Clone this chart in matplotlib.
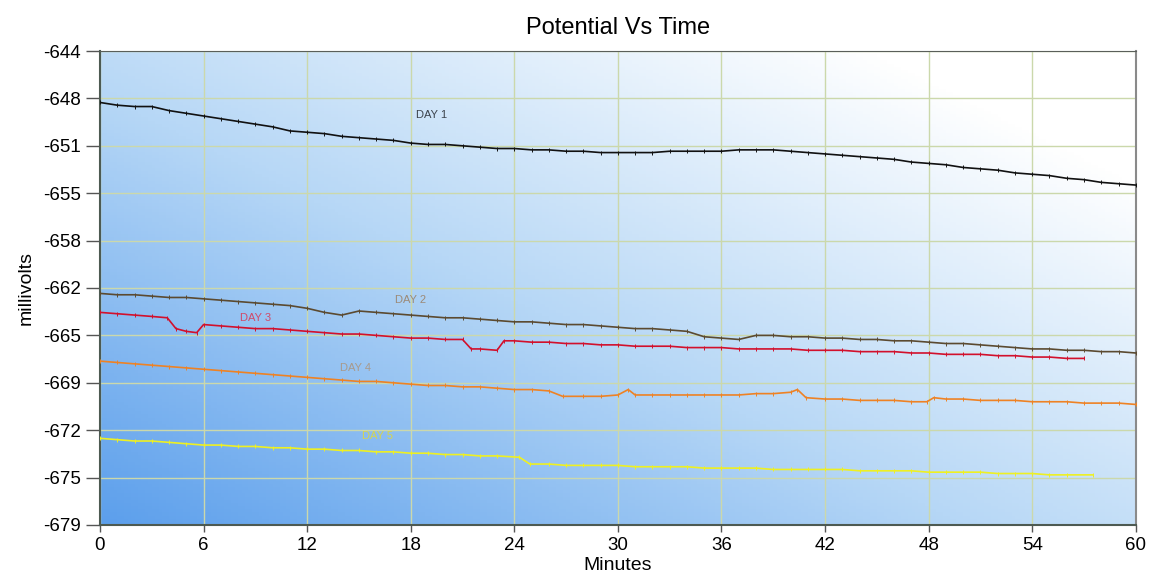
import matplotlib

matplotlib.use("Agg")
import matplotlib.pyplot as plt
import numpy as np
from matplotlib.colors import LinearSegmentedColormap

plt.rcParams["font.family"] = ["Liberation Sans", "DejaVu Sans"]

# minutes / millivolts
DAY1_T = list(range(0, 61))
DAY1_MV = [
    -647.8, -648.0, -648.1, -648.1, -648.4, -648.6, -648.8, -649.0, -649.2, -649.4,
    -649.6, -649.9, -650.0, -650.1, -650.3, -650.4, -650.5, -650.6, -650.8, -650.9,
    -650.9, -651.0, -651.1, -651.2, -651.2, -651.3, -651.3, -651.4, -651.4, -651.5,
    -651.5, -651.5, -651.5, -651.4, -651.4, -651.4, -651.4, -651.3, -651.3, -651.3,
    -651.4, -651.5, -651.6, -651.7, -651.8, -651.9, -652.0, -652.2, -652.3, -652.4,
    -652.6, -652.7, -652.8, -653.0, -653.1, -653.2, -653.4, -653.5, -653.7, -653.8,
    -653.9,
]

DAY2_T = list(range(0, 61))
DAY2_MV = [
    -661.9, -662.0, -662.0, -662.1, -662.2, -662.2, -662.3, -662.4, -662.5, -662.6,
    -662.7, -662.8, -663.0, -663.3, -663.5, -663.2, -663.3, -663.4, -663.5, -663.6,
    -663.7, -663.7, -663.8, -663.9, -664.0, -664.0, -664.1, -664.2, -664.2, -664.3,
    -664.4, -664.5, -664.5, -664.6, -664.7, -665.1, -665.2, -665.3, -665.0, -665.0,
    -665.1, -665.1, -665.2, -665.2, -665.3, -665.3, -665.4, -665.4, -665.5, -665.6,
    -665.6, -665.7, -665.8, -665.9, -666.0, -666.0, -666.1, -666.1, -666.2, -666.2,
    -666.3,
]

DAY3_T = [
    0, 1, 2, 3, 3.9, 4.4, 5, 5.6, 6.0, 7, 8, 9, 10, 11, 12, 13, 14, 15, 16, 17,
    18, 19, 20, 21, 21.5, 22, 23, 23.4, 24, 25, 26, 27, 28, 29, 30, 31, 32, 33,
    34, 35, 36, 37, 38, 39, 40, 41, 42, 43, 44, 45, 46, 47, 48, 49, 50, 51, 52,
    53, 54, 55, 56, 57,
]
DAY3_MV = [
    -663.3, -663.4, -663.5, -663.6, -663.7, -664.5, -664.7, -664.8, -664.2, -664.3,
    -664.4, -664.5, -664.5, -664.6, -664.7, -664.8, -664.9, -664.9, -665.0, -665.1,
    -665.2, -665.2, -665.3, -665.3, -666.0, -666.0, -666.1, -665.4, -665.4, -665.5,
    -665.5, -665.6, -665.6, -665.7, -665.7, -665.8, -665.8, -665.8, -665.9, -665.9,
    -665.9, -666.0, -666.0, -666.0, -666.0, -666.1, -666.1, -666.1, -666.2, -666.2,
    -666.2, -666.3, -666.3, -666.4, -666.4, -666.4, -666.5, -666.5, -666.6, -666.6,
    -666.7, -666.7,
]

DAY4_T = [
    0, 1, 2, 3, 4, 5, 6, 7, 8, 9, 10, 11, 12, 13, 14, 15, 16, 17, 18, 19, 20,
    21, 22, 23, 24, 25, 26, 26.8, 28, 29, 30, 30.6, 31, 32, 33, 34, 35, 36, 37,
    38, 39, 40, 40.4, 40.9, 42, 43, 44, 45, 46, 47, 47.9, 48.3, 49, 50, 51, 52,
    53, 54, 55, 56, 57, 58, 59, 60,
]
DAY4_MV = [
    -666.9, -667.0, -667.1, -667.2, -667.3, -667.4, -667.5, -667.6, -667.7, -667.8,
    -667.9, -668.0, -668.1, -668.2, -668.3, -668.4, -668.4, -668.5, -668.6, -668.7,
    -668.7, -668.8, -668.8, -668.9, -669.0, -669.0, -669.1, -669.5, -669.5, -669.5,
    -669.4, -669.0, -669.4, -669.4, -669.4, -669.4, -669.4, -669.4, -669.4, -669.3,
    -669.3, -669.2, -669.0, -669.6, -669.7, -669.7, -669.8, -669.8, -669.8, -669.9,
    -669.9, -669.6, -669.7, -669.7, -669.8, -669.8, -669.8, -669.9, -669.9, -669.9,
    -670.0, -670.0, -670.0, -670.1,
]

DAY5_T = [
    0, 1, 2, 3, 4, 5, 6, 7, 8, 9, 10, 11, 12, 13, 14, 15, 16, 17, 18, 19, 20,
    21, 22, 23, 24.3, 24.9, 26, 27, 28, 29, 30, 31, 32, 33, 34, 35, 36, 37, 38,
    39, 40, 41, 42, 43, 44, 45, 46, 47, 48, 49, 50, 51, 52, 53, 54, 55, 56, 57.5,
]
DAY5_MV = [
    -672.6, -672.7, -672.8, -672.8, -672.9, -673.0, -673.1, -673.1, -673.2, -673.2,
    -673.3, -673.3, -673.4, -673.4, -673.5, -673.5, -673.6, -673.6, -673.7, -673.7,
    -673.8, -673.8, -673.9, -673.9, -674.0, -674.5, -674.5, -674.6, -674.6, -674.6,
    -674.6, -674.7, -674.7, -674.7, -674.7, -674.8, -674.8, -674.8, -674.8, -674.9,
    -674.9, -674.9, -674.9, -674.9, -675.0, -675.0, -675.0, -675.0, -675.1, -675.1,
    -675.1, -675.1, -675.2, -675.2, -675.2, -675.3, -675.3, -675.3,
]

X_TICKS = [0, 6, 12, 18, 24, 30, 36, 42, 48, 54, 60]
Y_TICK_LABELS = ["-679", "-675", "-672", "-669", "-665", "-662",
                 "-658", "-655", "-651", "-648", "-644"]

# series: (times, values, line colour, label text, label x, label y, label colour)
SERIES = [
    (DAY1_T, DAY1_MV, "#111111", "DAY 1", 19.2, -648.7, "#3c434c"),
    (DAY2_T, DAY2_MV, "#5b4a30", "DAY 2", 18.0, -662.4, "#9c8a78"),
    (DAY3_T, DAY3_MV, "#d2102c", "DAY 3", 9.0, -663.7, "#d04a6a"),
    (DAY4_T, DAY4_MV, "#ee8224", "DAY 4", 14.8, -667.4, "#a89a8c"),
    (DAY5_T, DAY5_MV, "#eef022", "DAY 5", 16.1, -672.4, "#d6d450"),
]


def main() -> None:
    fig = plt.figure(figsize=(11.56, 5.79), dpi=100)
    ax = fig.add_axes([0.0865, 0.0933, 0.896, 0.8186])

    # diagonal blue-to-white backdrop
    gx, gy = np.meshgrid(np.linspace(0, 1, 300), np.linspace(0, 1, 150))
    shade = np.clip(0.6 * gx + 0.55 * gy, 0, 1)
    cmap = LinearSegmentedColormap.from_list("bg", ["#5c9fec", "#b6d7f6", "#ffffff"])
    ax.imshow(shade, extent=[0, 60, -679, -644], origin="lower", aspect="auto",
              cmap=cmap, vmin=0, vmax=1, zorder=0)

    for times, values, color, label, lx, ly, lcolor in SERIES:
        ax.plot(times, values, color=color, linewidth=1.2, zorder=3)
        ax.plot(times, values, color=color, linestyle="none", marker="|",
                markersize=3.5, markeredgewidth=0.7, zorder=3)
        ax.text(lx, ly, label, color=lcolor, fontsize=8, ha="center",
                va="center", zorder=4)

    ax.set_xlim(0, 60)
    ax.set_ylim(-679, -644)
    ax.set_xticks(X_TICKS)
    ax.set_yticks(np.linspace(-679, -644, len(Y_TICK_LABELS)))
    ax.set_yticklabels(Y_TICK_LABELS)
    ax.tick_params(axis="both", labelsize=13.5, direction="out", color="#555555")
    ax.tick_params(axis="y", length=10, width=1)
    ax.tick_params(axis="x", length=5, width=1)
    ax.grid(True, color="#cbd8ab", linewidth=1, zorder=1)

    for side in ("left", "bottom"):
        ax.spines[side].set_color("#4d5a52")
        ax.spines[side].set_linewidth(1.5)
    ax.spines["top"].set_color("#5a5f5a")
    ax.spines["right"].set_color("#8a8a8a")
    ax.spines["right"].set_linewidth(1.5)

    ax.set_title("Potential Vs Time", fontsize=17, pad=12)
    ax.set_xlabel("Minutes", fontsize=14, labelpad=2)
    ax.set_ylabel("millivolts", fontsize=14, labelpad=6)

    fig.savefig("out.png", dpi=100)


if __name__ == "__main__":
    main()
